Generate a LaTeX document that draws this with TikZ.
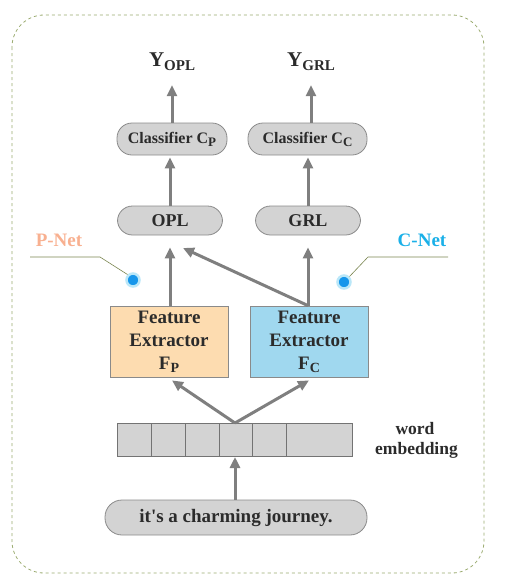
\documentclass[tikz,border=0pt]{standalone}
\usepackage{fontspec}
\setmainfont{Liberation Serif}
\usetikzlibrary{arrows.meta,calc}
\definecolor{txt}{HTML}{2B2B2B}
\definecolor{arr}{HTML}{7F7F7F}
\definecolor{pillfill}{HTML}{D3D3D3}
\definecolor{pilldraw}{HTML}{8A8A8A}
\definecolor{framec}{HTML}{9AAB6F}
\definecolor{pnet}{HTML}{F8B090}
\definecolor{cnet}{HTML}{1AB0E8}
\definecolor{fep}{HTML}{FDDCB0}
\definecolor{fec}{HTML}{A0D8EF}
\definecolor{leader}{HTML}{7A8550}
\tikzset{
  pill/.style={draw=pilldraw, fill=pillfill, rounded corners=15pt, line width=0.8pt,
    text=txt, font=\bfseries\fontsize{16}{18}\selectfont, inner sep=0pt},
  febox/.style={draw=pilldraw, line width=0.8pt, minimum width=118pt, minimum height=71pt,
    text=txt, align=center, font=\bfseries\fontsize{19}{23}\selectfont, inner sep=0pt},
  flow/.style={draw=arr, line width=3pt, -{Triangle[length=11pt,width=10pt]}},
  cell/.style={draw=gray!90!black, fill=pillfill, line width=0.8pt},
  lbl/.style={text=txt, font=\bfseries\fontsize{18}{20}\selectfont, inner sep=0pt},
  lead/.style={draw=leader, line width=0.6pt},
  dot/.style={circle, fill=cnet!85!blue, draw=cnet!30, line width=2.5pt, minimum size=13pt, inner sep=0pt}
}
\begin{document}
\begin{tikzpicture}[x=1pt,y=-1pt]
\useasboundingbox (0,0) rectangle (512,576);
% frame
\draw[framec, dashed, line width=0.8pt, rounded corners=32pt] (12,15) rectangle (484,573);
% outputs
\node[lbl] (yopl) at (172,62) {{\fontsize{21}{21}\selectfont Y}\raisebox{-4pt}{\fontsize{15}{15}\selectfont OPL}};
\node[lbl] (ygrl) at (311,62) {{\fontsize{21}{21}\selectfont Y}\raisebox{-4pt}{\fontsize{15}{15}\selectfont GRL}};
% classifiers
\node[pill, minimum width=110pt, minimum height=32pt] (clp) at (172,139) {Classifier C\raisebox{-3pt}{\fontsize{13}{13}\selectfont P}};
\node[pill, minimum width=119pt, minimum height=32pt] (clc) at (307.5,139) {Classifier C\raisebox{-3pt}{\fontsize{13}{13}\selectfont C}};
% OPL GRL
\node[pill, minimum width=105pt, minimum height=29pt, font=\bfseries\fontsize{18}{20}\selectfont] (opl) at (170,220.5) {OPL};
\node[pill, minimum width=105pt, minimum height=29pt, font=\bfseries\fontsize{18}{20}\selectfont] (grl) at (308,220.5) {GRL};
% feature extractors
\node[febox, fill=fep] (fp) at (169,341.5) {Feature\\Extractor\\F\raisebox{-3pt}{\fontsize{14}{14}\selectfont P}};
\node[febox, fill=fec] (fc) at (309,341.5) {Feature\\Extractor\\F\raisebox{-3pt}{\fontsize{14}{14}\selectfont C}};
% embedding
\foreach \a/\b [count=\i] in {117/151,151/185,185/219,219/252,252/286,286/352}{
  \draw[cell] (\a,423) rectangle (\b,456);
}
\coordinate (embtop) at (235,423);
\coordinate (embbot) at (235,457);
\node[lbl, align=center, font=\bfseries\fontsize{17.5}{20}\selectfont] (wemb) at (415,440) {word\\\hspace*{3pt}embedding};
% sentence
\node[pill, minimum width=262pt, minimum height=35pt, rounded corners=17pt, font=\bfseries\fontsize{19}{20}\selectfont] (sent) at (236,517.5) {it\textquotesingle s a charming journey.};
% P-Net / C-Net
\node[font=\bfseries\fontsize{19}{20}\selectfont, text=pnet, inner sep=0pt] (pnetl) at (59,240) {P-Net};
\node[font=\bfseries\fontsize{19}{20}\selectfont, text=cnet, inner sep=0pt] (cnetl) at (422,240) {C-Net};
\node[dot] (pdot) at (133,280) {};
\node[dot] (cdot) at (344,282) {};
\coordinate (pl1) at (30,257);
\coordinate (pl2) at (100,257);
\coordinate (cl1) at (448,257);
\coordinate (cl2) at (368,257);
\draw[lead] (pl1) -- (pl2) -- (pdot.north west);
\draw[lead] (cl1) -- (cl2) -- (cdot.north east);
% arrows
\coordinate (oplin) at (183,248);
\draw[flow] (clp.north -| yopl) -- ([yshift=-14pt]yopl.south);
\draw[flow] (clc.north -| ygrl) -- ([yshift=-14pt]ygrl.south);
\draw[flow] (opl.north) -- ([yshift=-2pt]clp.south -| opl.north);
\draw[flow] (grl.north) -- ([yshift=-2pt]clc.south -| grl.north);
\draw[flow] (fp.north -| opl.south) -- ([yshift=-12pt]opl.south);
\draw[flow] (fc.north -| grl.south) -- ([yshift=-12pt]grl.south);
\draw[flow] (fc.north -| grl.south) -- (oplin);
\draw[flow] (embtop) -- ([xshift=3pt,yshift=-3pt]fp.south);
\draw[flow] (embtop) -- ([yshift=-3pt]fc.south);
\draw[flow] (sent.north -| embbot) -- (embbot);
\end{tikzpicture}
\end{document}
